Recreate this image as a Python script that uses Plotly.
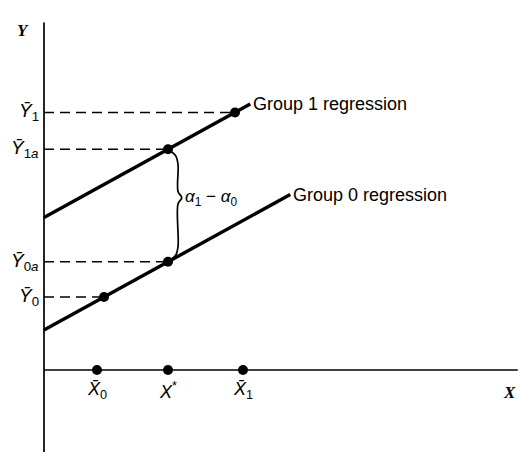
import plotly.graph_objects as go

# Common slope and group intercepts of the two parallel regression lines
slope = 0.55
intercepts = {"Group 1": 6.1, "Group 0": 1.6}
line_end_x = {"Group 1": 8.25, "Group 0": 9.85}

# Group means and the common comparison point X*
x_bar0_point = 2.4      # Group 0 mean on its regression line
x_star = 4.96
x_bar1_point = 7.64     # Group 1 mean on its regression line
x_axis_marks = [2.12, 4.96, 7.96]
x_axis_labels = ["<i>X̄</i><sub>0</sub>", "<i>X</i><sup>*</sup>", "<i>X̄</i><sub>1</sub>"]

y_bar1 = intercepts["Group 1"] + slope * x_bar1_point
y_bar1a = intercepts["Group 1"] + slope * x_star
y_bar0a = intercepts["Group 0"] + slope * x_star
y_bar0 = intercepts["Group 0"] + slope * x_bar0_point

y_levels = [y_bar1, y_bar1a, y_bar0a, y_bar0]
y_level_x = [x_bar1_point, x_star, x_star, x_bar0_point]
y_labels = ["<i>Ȳ</i><sub>1</sub>", "<i>Ȳ</i><sub>1<i>a</i></sub>",
            "<i>Ȳ</i><sub>0<i>a</i></sub>", "<i>Ȳ</i><sub>0</sub>"]

FONT = "Liberation Sans, Arial, sans-serif"
BLACK = "#000000"

fig = go.Figure()

# Axes drawn as plain lines through the origin
fig.add_trace(go.Scatter(x=[0, 0], y=[-3.3, 13.9], mode="lines",
                         line=dict(color=BLACK, width=1.7), hoverinfo="skip"))
fig.add_trace(go.Scatter(x=[0, 18.95], y=[0, 0], mode="lines",
                         line=dict(color=BLACK, width=1.7), hoverinfo="skip"))

# Dashed guides from the Y axis to each point
for yl, xl in zip(y_levels, y_level_x):
    fig.add_trace(go.Scatter(x=[0, xl], y=[yl, yl], mode="lines",
                             line=dict(color=BLACK, width=1.6, dash="10px,6px"),
                             hoverinfo="skip"))

# Regression lines
for grp in ["Group 1", "Group 0"]:
    a = intercepts[grp]
    xe = line_end_x[grp]
    fig.add_trace(go.Scatter(x=[0, xe], y=[a, a + slope * xe], mode="lines",
                             line=dict(color=BLACK, width=3.4), hoverinfo="skip"))
    fig.add_annotation(x=xe, y=a + slope * xe, text=f"{grp} regression",
                       showarrow=False, xanchor="left", yanchor="middle", xshift=1,
                       font=dict(family=FONT, size=18, color=BLACK))

# Points on the regression lines
fig.add_trace(go.Scatter(x=y_level_x, y=y_levels, mode="markers",
                         marker=dict(color=BLACK, size=10), hoverinfo="skip"))

# Points on the X axis
fig.add_trace(go.Scatter(x=x_axis_marks, y=[0] * 3, mode="markers",
                         marker=dict(color=BLACK, size=10), hoverinfo="skip"))
for xm, lab in zip(x_axis_marks, x_axis_labels):
    fig.add_annotation(x=xm, y=0, text=lab, showarrow=False, yanchor="top",
                       yshift=-7, font=dict(family=FONT, size=18, color=BLACK))

# Y level labels
for yl, lab in zip(y_levels, y_labels):
    fig.add_annotation(x=0, y=yl, text=lab, showarrow=False, xanchor="right",
                       yanchor="middle", xshift=-3,
                       font=dict(family=FONT, size=19, color=BLACK))

# Brace marking the vertical gap between the lines at X*
bx = x_star + 0.4
tip_y = y_bar0a + 0.57 * (y_bar1a - y_bar0a)
brace_x = [x_star + 0.05, bx - 0.1, bx, bx, bx + 0.15, bx, bx, bx - 0.1, x_star + 0.05]
brace_y = [y_bar1a - 0.05, y_bar1a - 0.25, y_bar1a - 0.6, tip_y + 0.25, tip_y,
           tip_y - 0.25, y_bar0a + 0.6, y_bar0a + 0.25, y_bar0a + 0.05]
fig.add_trace(go.Scatter(x=brace_x, y=brace_y, mode="lines", line_shape="spline",
                         line=dict(color=BLACK, width=1.7), hoverinfo="skip"))
fig.add_annotation(x=bx + 0.2, y=tip_y, text="<i>α</i><sub>1</sub> − <i>α</i><sub>0</sub>",
                   showarrow=False, xanchor="left", yanchor="middle",
                   font=dict(family=FONT, size=17, color=BLACK))

# Axis names
fig.add_annotation(x=-0.85, y=13.6, text="<b><i>Y</i></b>", showarrow=False,
                   font=dict(family="Liberation Serif, serif", size=17, color=BLACK))
fig.add_annotation(x=18.6, y=-0.9, text="<b><i>X</i></b>", showarrow=False,
                   font=dict(family="Liberation Serif, serif", size=17, color=BLACK))

fig.update_layout(
    width=519, height=452, margin=dict(l=0, r=0, t=0, b=0),
    paper_bgcolor="white", plot_bgcolor="white", showlegend=False,
    xaxis=dict(range=[-1.76, 19.0], visible=False, fixedrange=True),
    yaxis=dict(range=[-3.28, 14.8], visible=False, fixedrange=True),
)

fig.write_html("out.html")
